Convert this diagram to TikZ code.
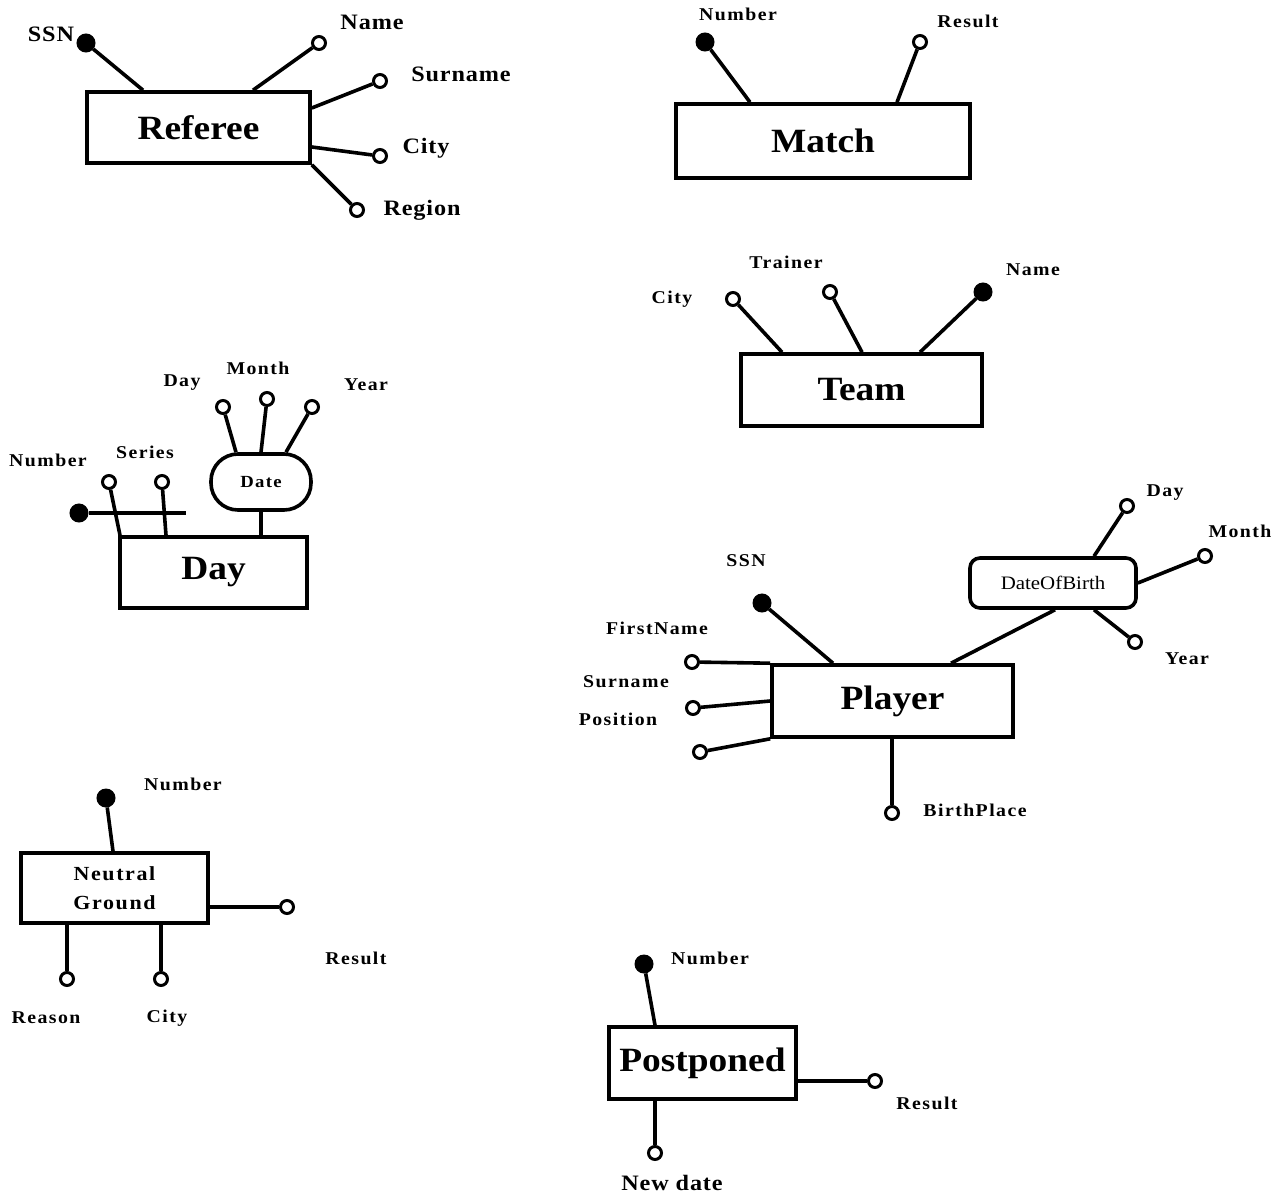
\documentclass[tikz,border=0pt]{standalone}
\usepackage{fontspec}
\setmainfont{Liberation Serif}[FakeStretch=1.1]
\newfontfamily\spfont{Liberation Serif}[FakeStretch=1.1,LetterSpace=8]
\newfontfamily\mdfont{Liberation Serif}[FakeStretch=1.1,LetterSpace=4]
\tikzset{
  ent/.style={draw, line width=3.6pt, inner sep=0pt, font=\fontsize{34}{38}\selectfont\bfseries},
  attr/.style={circle, draw, line width=3pt, fill=white, inner sep=0pt, minimum size=13pt},
  keyattr/.style={circle, draw, fill=black, line width=1pt, inner sep=0pt, minimum size=18pt},
  conn/.style={line width=3.6pt},
  biglbl/.style={inner sep=0pt, font=\mdfont\fontsize{22}{26}\selectfont\bfseries},
  smlbl/.style={inner sep=0pt, font=\spfont\fontsize{18}{22}\selectfont\bfseries},
}
\begin{document}
\begin{tikzpicture}[x=1pt, y=-1pt]
\useasboundingbox (0,0) rectangle (1281,1196);

% ---------------- Referee ----------------
\node[ent, minimum width=223pt, minimum height=71pt] (ref) at (198.5,127.5) {Referee};
\node[keyattr] (rssn) at (86,43) {};
\node[attr] (rname) at (319,43) {};
\node[attr] (rsur) at (380,81) {};
\node[attr] (rcity) at (380,156) {};
\node[attr] (rreg) at (357,210) {};
\draw[conn] (rssn) -- (ref.north -| 143,0);
\draw[conn] (rname) -- (ref.north -| 253,0);
\draw[conn] (rsur) -- (ref.east |- 0,108);
\draw[conn] (rcity) -- (ref.east |- 0,147);
\draw[conn] (rreg) -- (ref.south east);
\node[biglbl] (lrssn) at (51,34) {SSN};
\node[biglbl] (lrname) at (372,22) {Name};
\node[biglbl] (lrsur) at (461,74) {Surname};
\node[biglbl] (lrcity) at (426,148) {City};
\node[biglbl] (lrreg) at (422,210) {Region};

% ---------------- Match ----------------
\node[ent, minimum width=294pt, minimum height=74pt] (match) at (823,141) {Match};
\node[keyattr] (mnum) at (705,42) {};
\node[attr] (mres) at (920,42) {};
\draw[conn] (mnum) -- (match.north -| 750,0);
\draw[conn] (mres) -- (match.north -| 897,0);
\node[smlbl] (lmnum) at (738,14) {Number};
\node[smlbl] (lmres) at (968,21) {Result};

% ---------------- Team ----------------
\node[ent, minimum width=241pt, minimum height=72pt] (team) at (861.5,390) {Team};
\node[attr] (tcity) at (733,299) {};
\node[attr] (ttr) at (830,292) {};
\node[keyattr] (tname) at (983,292) {};
\draw[conn] (tcity) -- (team.north -| 782,0);
\draw[conn] (ttr) -- (team.north -| 862,0);
\draw[conn] (tname) -- (team.north -| 920,0);
\node[smlbl] (ltcity) at (672,299) {City};
\node[smlbl] (lttr) at (786,262) {Trainer};
\node[smlbl] (ltname) at (1033,270) {Name};

% ---------------- Day ----------------
\node[ent, minimum width=187pt, minimum height=71pt] (day) at (213.5,572.5) {Day};
\node[draw, line width=3.6pt, rounded corners=27pt, minimum width=100pt, minimum height=56pt, inner sep=0pt, font=\spfont\fontsize{17}{20}\selectfont\bfseries] (date) at (261,482) {Date};
\node[attr] (dday) at (223,407) {};
\node[attr] (dmonth) at (267,399) {};
\node[attr] (dyear) at (312,407) {};
\node[keyattr] (dnum) at (79,513) {};
\node[attr] (ds1) at (109,482) {};
\node[attr] (ds2) at (162,482) {};
\coordinate (numend) at (186,513);
\draw[conn] (dday) -- (date.north -| 236,0);
\draw[conn] (dmonth) -- (date.north -| 261,0);
\draw[conn] (dyear) -- (date.north -| 286,0);
\draw[conn] (date) -- (day.north -| 261,0);
\draw[conn] (dnum) -- (numend);
\draw[conn] (ds1) -- (day.north -| 120,0);
\draw[conn] (ds2) -- (day.north -| 166,0);
\node[smlbl] (ldday) at (182,383) {Day};
\node[smlbl] (ldmonth) at (258,368) {Month};
\node[smlbl] (ldyear) at (366,385) {Year};
\node[smlbl] (ldnum) at (48,460) {Number};
\node[smlbl] (ldser) at (145,452) {Series};

% ---------------- Player ----------------
\node[ent, minimum width=241pt, minimum height=72pt] (player) at (892.5,701) {Player};
\node[draw, line width=3.6pt, rounded corners=10pt, minimum width=166pt, minimum height=50pt, inner sep=0pt, font=\fontsize{19}{23}\selectfont] (dob) at (1053,583) {DateOfBirth};
\node[keyattr] (pssn) at (762,603) {};
\node[attr] (pday) at (1127,506) {};
\node[attr] (pmonth) at (1205,556) {};
\node[attr] (pyear) at (1135,642) {};
\node[attr] (pfirst) at (692,662) {};
\node[attr] (psur) at (693,708) {};
\node[attr] (ppos) at (700,752) {};
\node[attr] (pbirth) at (892,813) {};
\draw[conn] (pssn) -- (player.north -| 833,0);
\draw[conn] (dob.south -| 1055,0) -- (player.north -| 951,0);
\draw[conn] (pday) -- (dob.north -| 1094,0);
\draw[conn] (pmonth) -- (dob.east |- 0,583);
\draw[conn] (pyear) -- (dob.south -| 1094,0);
\draw[conn] (pfirst) -- (player.north west);
\draw[conn] (psur) -- (player.west |- 0,701);
\draw[conn] (ppos) -- (player.south west);
\draw[conn] (pbirth) -- (player.south -| 892,0);
\node[smlbl] (lpssn) at (746,561) {SSN};
\node[smlbl] (lpfirst) at (657,628) {FirstName};
\node[smlbl] (lpsur) at (626,682) {Surname};
\node[smlbl] (lppos) at (618,719) {Position};
\node[smlbl] (lpbirth) at (975,810) {BirthPlace};
\node[smlbl] (lpday) at (1165,493) {Day};
\node[smlbl] (lpmonth) at (1240,531) {Month};
\node[smlbl] (lpyear) at (1187,659) {Year};

% ---------------- Neutral Ground ----------------
\node[draw, line width=3.6pt, inner sep=0pt, minimum width=187pt, minimum height=70pt, align=center, font=\spfont\fontsize{20}{29}\selectfont\bfseries] (ng) at (114.5,888) {Neutral\\Ground};
\node[keyattr] (nnum) at (106,798) {};
\node[attr] (nres) at (287,907) {};
\node[attr] (nreason) at (67,979) {};
\node[attr] (ncity) at (161,979) {};
\draw[conn] (nnum) -- (ng.north -| 113,0);
\draw[conn] (nres) -- (ng.east |- 0,907);
\draw[conn] (nreason) -- (ng.south -| 67,0);
\draw[conn] (ncity) -- (ng.south -| 161,0);
\node[smlbl] (lnnum) at (183,784) {Number};
\node[smlbl] (lnres) at (356,958) {Result};
\node[smlbl] (lnreason) at (46,1018) {Reason};
\node[smlbl] (lncity) at (167,1018) {City};

% ---------------- Postponed ----------------
\node[ent, minimum width=187pt, minimum height=72pt] (pp) at (702.5,1063) {Postponed};
\node[keyattr] (ponum) at (644,964) {};
\node[attr] (pores) at (875,1081) {};
\node[attr] (ponew) at (655,1153) {};
\draw[conn] (ponum) -- (pp.north -| 655,0);
\draw[conn] (pores) -- (pp.east |- 0,1081);
\draw[conn] (ponew) -- (pp.south -| 655,0);
\node[smlbl] (lponum) at (710,958) {Number};
\node[smlbl] (lpores) at (927,1103) {Result};
\node[biglbl] (lponew) at (672,1183) {New date};
\end{tikzpicture}
\end{document}
